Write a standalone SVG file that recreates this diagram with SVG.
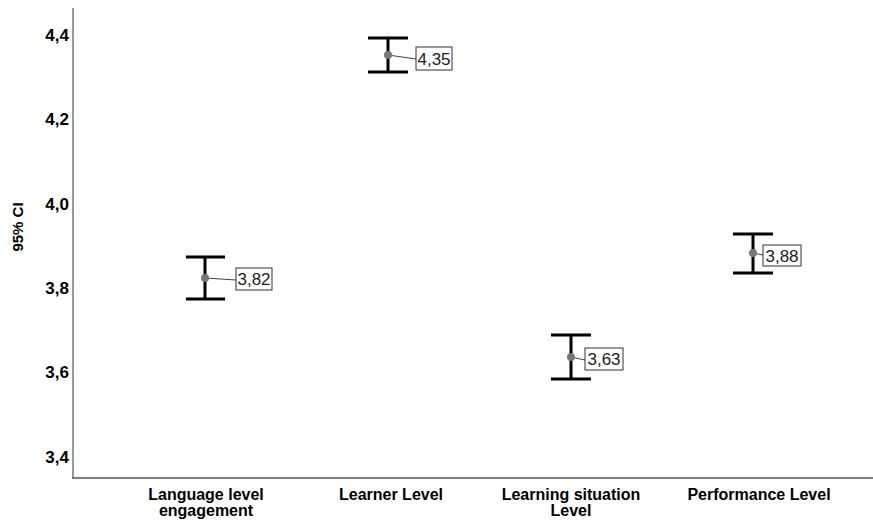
<svg xmlns="http://www.w3.org/2000/svg" width="873" height="521" viewBox="0 0 873 521">
<style>
.tick{font-family:"Liberation Sans",Arial,sans-serif;font-size:17px;font-weight:bold;fill:#000;text-anchor:end}
.cat{font-family:"Liberation Sans",Arial,sans-serif;font-size:16px;font-weight:bold;fill:#000;text-anchor:middle}
.ttl{font-family:"Liberation Sans",Arial,sans-serif;font-size:15px;font-weight:bold;fill:#000;text-anchor:middle}
.val{font-family:"Liberation Sans",Arial,sans-serif;font-size:17px;fill:#222;text-anchor:middle}
.bar{stroke:#000;stroke-width:3;fill:none}
.box{fill:#fff;stroke:#333;stroke-width:1}
.lead{stroke:#444;stroke-width:1;fill:none}
.dot{fill:#777}
</style>
<rect width="873" height="521" fill="#fff"/>
<g id="axes">
<line x1="73" y1="8" x2="73" y2="478" stroke="#999" stroke-width="2"/>
<line x1="72" y1="478" x2="873" y2="478" stroke="#555" stroke-width="1.5"/>
<text class="tick" x="69" y="41">4,4</text>
<text class="tick" x="69" y="125">4,2</text>
<text class="tick" x="69" y="210">4,0</text>
<text class="tick" x="69" y="294">3,8</text>
<text class="tick" x="69" y="378">3,6</text>
<text class="tick" x="69" y="463">3,4</text>
<text class="ttl" transform="translate(23,227) rotate(-90)">95% CI</text>
</g>
<g id="connectors">
<line class="lead" x1="205" y1="278" x2="236" y2="280"/>
<line class="lead" x1="388" y1="55" x2="416" y2="59"/>
<line class="lead" x1="571" y1="357" x2="585" y2="360"/>
<line class="lead" x1="753" y1="253" x2="763" y2="255"/>
</g>
<g id="language">
<path class="bar" d="M186 257H225M205 257V299M186 299H225"/>
<circle class="dot" cx="205" cy="278" r="4"/>
<rect class="box" x="236" y="268" width="36" height="22"/>
<text class="val" x="254" y="285">3,82</text>
<text class="cat" x="206" y="500">Language level</text>
<text class="cat" x="206" y="516">engagement</text>
</g>
<g id="learner">
<path class="bar" d="M368 38H408M388 38V72M368 72H408"/>
<circle class="dot" cx="388" cy="55" r="4"/>
<rect class="box" x="416" y="47" width="36" height="23"/>
<text class="val" x="434" y="65">4,35</text>
<text class="cat" x="391" y="500">Learner Level</text>
</g>
<g id="situation">
<path class="bar" d="M551 335H591M571 335V379M551 379H591"/>
<circle class="dot" cx="571" cy="357" r="4"/>
<rect class="box" x="585" y="348" width="38" height="22"/>
<text class="val" x="604" y="365">3,63</text>
<text class="cat" x="571" y="500">Learning situation</text>
<text class="cat" x="571" y="516">Level</text>
</g>
<g id="performance">
<path class="bar" d="M733 234H773M753 234V273M733 273H773"/>
<circle class="dot" cx="753" cy="253" r="4"/>
<rect class="box" x="763" y="245" width="38" height="21"/>
<text class="val" x="782" y="262">3,88</text>
<text class="cat" x="759" y="500">Performance Level</text>
</g>
</svg>
